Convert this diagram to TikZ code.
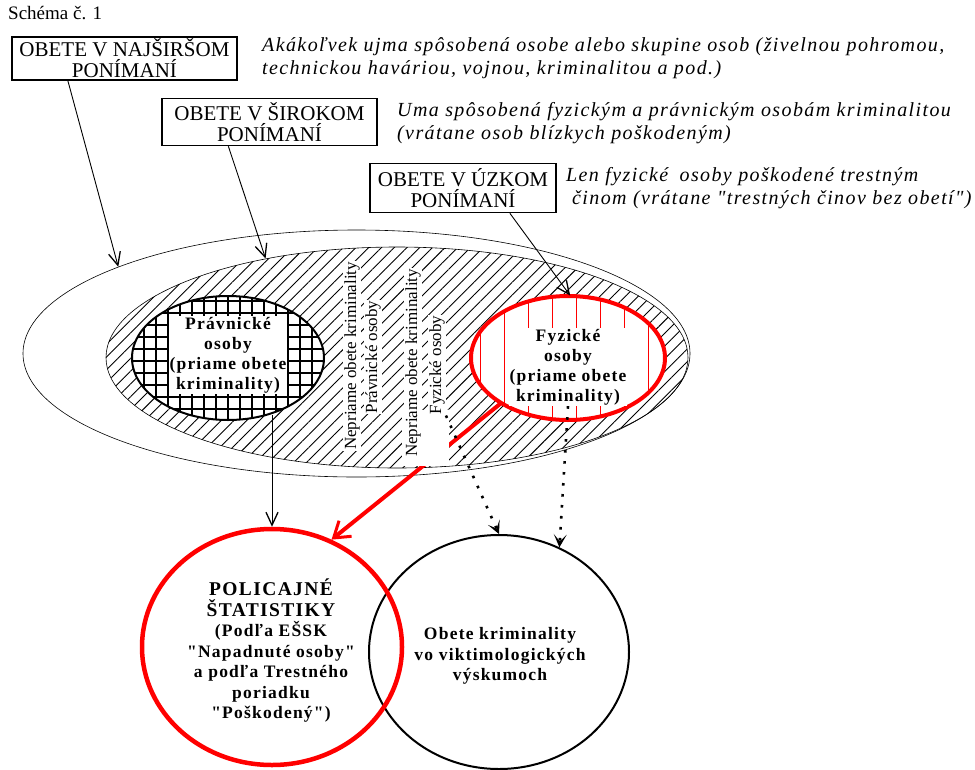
\documentclass[tikz,border=0pt]{standalone}
\usepackage{fontspec}
\setmainfont{Liberation Serif}
\newfontfamily\spaced[LetterSpace=7]{Liberation Serif}
\usetikzlibrary{calc,shapes.geometric,patterns.meta,arrows.meta}
\definecolor{ink}{HTML}{000000}
\definecolor{alarm}{HTML}{FF0000}
\tikzset{
  titlebox/.style={draw=ink, line width=1.5pt, align=center, inner sep=0pt, font=\fontsize{21}{21}\selectfont},
  desc/.style={anchor=west, align=left, inner sep=0pt, font=\spaced\itshape\fontsize{20}{22.5}\selectfont},
  zone/.style={ellipse, inner sep=0pt},
  inlab/.style={fill=white, align=center, inner sep=1pt, font=\spaced\bfseries\fontsize{17.5}{20}\selectfont},
  biglab/.style={align=center, inner sep=0pt, font=\spaced\bfseries\fontsize{17.5}{20.5}\selectfont},
  sidelab/.style={fill=white, rotate=90, inner sep=1pt, font=\fontsize{17}{18}\selectfont},
  arr/.style={draw=ink, line width=0.9pt, -{Straight Barb[length=13pt,width=12pt,line width=1.3pt]}},
  redarr/.style={draw=alarm, line width=4pt, -{Straight Barb[length=15pt,width=20pt,line width=3pt]}},
  dotarr/.style={draw=ink, line width=2.6pt, dash pattern=on 2.6pt off 8.4pt,
    -{Stealth[length=13pt,width=13pt,inset=7pt,line width=0pt]}},
}
\begin{document}
\begin{tikzpicture}[x=1pt, y=-1pt]
  \useasboundingbox (0,0) rectangle (975,769);

  % zones of victims
  \node[zone, draw=ink, line width=0.6pt, minimum width=667pt, minimum height=247pt] (najsirsi) at (356.5,353.5) {};
  \node[zone, draw=ink, line width=0.6pt, pattern={Lines[angle=45,distance=9pt,line width=0.9pt]},
    minimum width=582pt, minimum height=221pt] (siroke) at (397,357.5) {};
  \node[zone, draw=ink, line width=2pt, preaction={fill=white},
    pattern={Hatch[angle=0,distance=12pt,line width=1.1pt]},
    minimum width=192pt, minimum height=124pt] (pravo) at (228,358) {};
  \node[zone, draw=alarm, line width=4pt, preaction={fill=white},
    pattern={Lines[angle=90,distance=24pt,line width=1pt]}, pattern color=alarm,
    minimum width=194pt, minimum height=124pt] (fyzicke) at (568,358) {};

  % statistics and surveys
  \node[zone, draw=ink, line width=2pt, minimum width=260pt, minimum height=234pt] (vyskum) at (499,652) {};
  \node[zone, draw=alarm, line width=4.5pt, minimum width=260pt, minimum height=236pt] (policia) at (272,647) {};

  \draw[redarr] (fyzicke.214) -- (policia.61);

  % indirect victims
  \fill[white] (402,410) rectangle (449,466);
  \node[sidelab] (nepr1) at (352,356) {Nepriame obete kriminality};
  \node[sidelab] (prav1) at (373,357) {Právnické osoby};
  \node[sidelab] (nepr2) at (413,363) {Nepriame obete kriminality};
  \node[sidelab] (fyz1) at (437,365) {Fyzické osoby};

  \node[inlab] (pravot) at (228,355) {Právnické\\osoby\\(priame obete\\kriminality)};
  \node[inlab] (fyzickt) at (568,367) {Fyzické\\osoby\\(priame obete\\kriminality)};
  \node[biglab] (policiat) at (271,651) {{\fontsize{19.5}{20.5}\selectfont POLICAJNÉ}\\{\fontsize{19.5}{20.5}\selectfont ŠTATISTIKY}\\(Podľa EŠSK\\"Napadnuté osoby"\\a podľa Trestného\\poriadku\\"Poškodený")};
  \node[biglab] (vyskumt) at (500,656) {Obete kriminality\\vo viktimologických\\výskumoch};

  % headings
  \node[anchor=west, inner sep=0pt, font=\fontsize{19}{19}\selectfont] (schema) at (8,13) {Schéma č. 1};
  \node[titlebox, minimum width=225pt, minimum height=43pt] (boxnaj) at (124.5,58.5) {OBETE V NAJŠIRŠOM\\PONÍMANÍ};
  \node[titlebox, minimum width=215pt, minimum height=47pt] (boxsir) at (269.5,122) {OBETE V ŠIROKOM\\PONÍMANÍ};
  \node[titlebox, minimum width=186pt, minimum height=49pt] (boxuz) at (463,188) {OBETE V ÚZKOM\\PONÍMANÍ};
  \node[desc] (popnaj) at (262,58) {Akákoľvek ujma spôsobená osobe alebo skupine osob (živelnou pohromou,\\technickou haváriou, vojnou, kriminalitou a pod.)};
  \node[desc] (popsir) at (397,123) {Uma spôsobená fyzickým a právnickým osobám kriminalitou\\(vrátane osob blízkych poškodeným)};
  \node[desc] (popuz) at (566,188) {Len fyzické\hspace{5pt} osoby poškodené trestným\\\hspace{6pt}činom (vrátane "trestných činov bez obetí")};

  % connectors
  \draw[arr] ($(boxnaj.south west)!0.25!(boxnaj.south east)$) -- (najsirsi.160);
  \draw[arr] ($(boxsir.south west)!0.31!(boxsir.south east)$) -- (siroke.143);
  \draw[arr] ($(boxuz.south west)!0.75!(boxuz.south east)$) -- (fyzicke.88);
  \draw[arr] (policia.north |- pravo.-55) -- (policia.north);
  \draw[dotarr] (fyz1.south west) -- (vyskum.north);
  \draw[dotarr] (fyzickt.south) -- (vyskum.60);
\end{tikzpicture}
\end{document}
